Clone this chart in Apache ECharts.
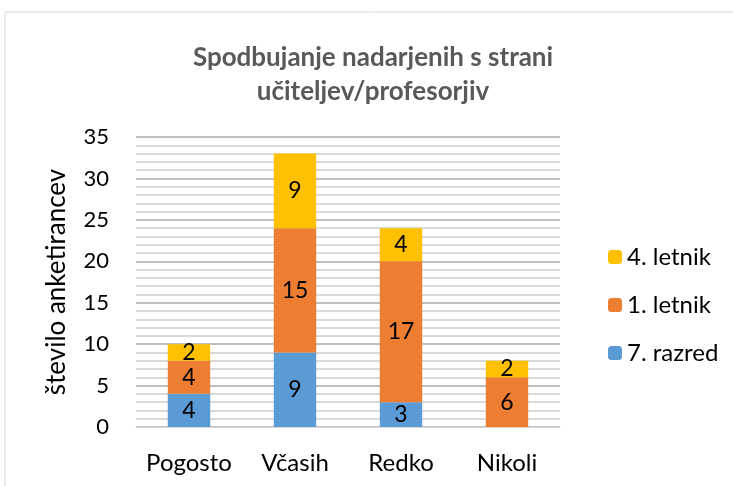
<!DOCTYPE html>
<html>
<head>
<meta charset="utf-8">
<script src="https://cdn.jsdelivr.net/npm/echarts@6/dist/echarts.min.js"></script>
<style>
  html, body { margin: 0; padding: 0; background: #fff; }
  #chart { width: 733px; height: 486px; }
</style>
</head>
<body>
<div id="chart"></div>
<script>
var categories = ['Pogosto', 'Včasih', 'Redko', 'Nikoli']
var razred7 = [4, 9, 3, 0]
var letnik1 = [4, 15, 17, 6]
var letnik4 = [2, 9, 4, 2]
var seriesNames = ['7. razred', '1. letnik', '4. letnik']
var seriesColors = ['#5b9bd5', '#ed7d31', '#ffc000']

var font = 'Lato, "Open Sans", sans-serif'
var labelOption = {
  show: true,
  position: 'inside',
  color: '#000',
  fontSize: 23,
  fontFamily: font,
  formatter: function (p) { return p.value ? p.value : '' }
}

var chart = echarts.init(document.getElementById('chart'))
chart.setOption({
  animation: false,
  title: {
    text: 'Spodbujanje nadarjenih s strani\nučiteljev/profesorjiv',
    left: 368,
    textAlign: 'center',
    top: 36,
    textStyle: {
      fontFamily: font,
      fontSize: 26,
      fontWeight: 'bold',
      color: '#595959',
      lineHeight: 34
    }
  },
  graphic: [{
    type: 'rect',
    shape: { x: 5, y: 12, width: 800, height: 600 },
    style: { fill: 'none', stroke: '#d9d9d9', lineWidth: 1 },
    silent: true
  }],
  legend: {
    orient: 'vertical',
    left: 603,
    top: 240,
    itemWidth: 14,
    itemHeight: 14,
    itemGap: 24,
    data: ['4. letnik', '1. letnik', '7. razred'],
    textStyle: { fontFamily: font, fontSize: 24, color: '#000' }
  },
  grid: { left: 136, right: 173, top: 137, bottom: 59, containLabel: false },
  xAxis: {
    type: 'category',
    data: categories,
    axisTick: { show: false },
    axisLine: { lineStyle: { color: '#d9d9d9', width: 1 } },
    axisLabel: { interval: 0, fontFamily: font, fontSize: 24, color: '#000', margin: 24 }
  },
  yAxis: {
    type: 'value',
    min: 0,
    max: 35,
    interval: 5,
    name: 'število anketirancev',
    nameLocation: 'middle',
    nameGap: 66,
    nameTextStyle: { fontFamily: font, fontSize: 26, color: '#000' },
    axisLabel: { fontFamily: font, fontSize: 22, color: '#000', margin: 27 },
    axisLine: { show: false },
    axisTick: { show: false },
    splitLine: { lineStyle: { color: '#bfbfbf', width: 2 } },
    minorTick: { show: false, splitNumber: 5 },
    minorSplitLine: { show: true, lineStyle: { color: '#d9d9d9', width: 2 } }
  },
  series: [
    { name: seriesNames[0], type: 'bar', stack: 'a', barWidth: '40%', data: razred7, itemStyle: { color: seriesColors[0] }, label: labelOption },
    { name: seriesNames[1], type: 'bar', stack: 'a', data: letnik1, itemStyle: { color: seriesColors[1] }, label: labelOption },
    { name: seriesNames[2], type: 'bar', stack: 'a', data: letnik4, itemStyle: { color: seriesColors[2] }, label: labelOption }
  ]
})
</script>
</body>
</html>
